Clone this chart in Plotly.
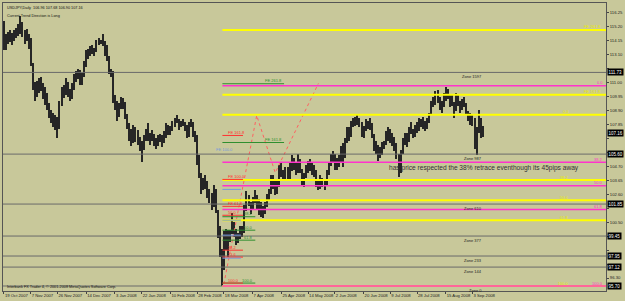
import numpy as np
import pandas as pd
import plotly.graph_objects as go

# ---------------- data ----------------
header_text = "USDJPY,Daily  106.96 107.68 106.90 107.16"
trend_text = "Current Trend Direction is Long"
footer_text = "Interbank FX Trader 4, \u00a9 2001-2008 MetaQuotes Software Corp."
note_text = "has price respected the 38% retrace eventhough its 45pips away"
note_price = 104.52
note_date = "2008-07-08"

first_date = "2007-10-19"
bar_high = [
    115.6,
    114.6, 114.8, 114.9, 114.7, 114.9,
    115.1, 115.4, 115.97, 115.5, 114.9,
    115.0, 114.6, 114.3, 112.4, 111.0,
    111.1, 111.3, 111.4, 110.9, 110.6,
    110.2, 109.4, 108.9, 108.7, 108.5,
    108.4, 109.6, 110.6, 110.8, 111.3,
    111.0, 110.5, 110.9, 111.6, 111.8,
    112.0, 111.9, 111.7, 112.6, 113.4,
    113.5, 113.7, 113.8, 113.6, 114.2,
    114.3, 114.2, 114.62, 114.1, 113.8,
    113.0, 112.0, 111.8, 110.0, 109.6,
    109.4, 109.9, 109.8, 109.5, 108.6,
    107.9, 107.5, 107.8, 107.6, 107.4,
    106.9, 106.6, 107.0, 107.5, 107.9,
    107.2, 107.4, 107.1, 106.8, 107.0,
    107.1, 107.0, 107.3, 107.9, 107.8,
    107.7, 108.1, 108.3, 108.5, 108.2,
    108.1, 108.2, 108.0, 107.8, 108.0,
    108.2, 108.0, 107.3, 107.0, 105.5,
    104.2, 103.8, 104.0, 103.6, 103.0,
    102.7, 103.3, 103.0, 101.4, 100.2,
    98.5, 99.8, 100.0, 99.9, 99.9,
    101.2, 100.5, 100.0, 99.7, 100.2,
    100.2, 101.8, 102.8, 102.5, 102.0,
    102.4, 102.9, 102.5, 102.2, 102.0,
    101.7, 102.0, 102.6, 103.0, 104.0,
    104.0, 103.6, 103.6, 104.8, 104.9,
    104.4, 104.6, 104.6, 104.9, 105.5,
    105.3, 105.0, 105.6, 105.2, 104.5,
    104.2, 104.8, 105.1, 105.2, 104.9,
    104.8, 104.4, 103.6, 104.0, 103.8,
    103.6, 104.4, 105.0, 105.6, 105.8,
    105.6, 105.3, 105.5, 106.2, 106.4,
    106.8, 107.6, 107.6, 108.1, 108.3,
    108.4, 108.5, 108.3, 108.0, 107.7,
    108.2, 108.1, 108.3, 107.9, 107.1,
    106.6, 106.3, 106.1, 106.5, 106.6,
    107.3, 107.6, 107.5, 107.2, 106.9,
    106.4, 105.6, 105.9, 106.8, 107.2,
    107.2, 107.6, 108.0, 107.5, 107.8,
    108.0, 108.3, 108.2, 108.4, 108.1,
    108.3, 108.7, 109.6, 109.9, 110.3,
    110.4, 109.9, 109.6, 110.2, 110.6,
    110.5, 110.0, 110.0, 109.5, 110.2,
    110.0, 109.6, 109.7, 109.9, 109.4,
    108.8, 108.7, 108.5, 108.3, 107.6,
    108.9, 108.3, 107.7,
]
bar_low = [
    113.4,
    113.4, 113.9, 114.0, 113.8, 114.1,
    114.3, 114.5, 114.6, 114.4, 113.9,
    114.1, 113.5, 112.2, 110.4, 109.6,
    109.9, 110.2, 110.3, 109.7, 109.3,
    108.9, 108.3, 107.9, 107.6, 107.4,
    106.8, 107.5, 109.2, 109.8, 110.0,
    109.9, 109.6, 109.7, 110.4, 111.0,
    111.2, 110.8, 110.8, 111.4, 112.1,
    112.7, 113.0, 113.1, 113.0, 113.3,
    113.8, 113.9, 113.7, 113.0, 112.6,
    111.6, 111.4, 109.4, 108.9, 108.1,
    108.4, 109.0, 109.0, 108.2, 107.5,
    106.6, 106.2, 106.4, 106.5, 106.3,
    105.8, 105.0, 105.9, 106.6, 106.6,
    106.3, 106.6, 106.2, 106.0, 106.2,
    106.5, 106.1, 106.4, 106.8, 107.0,
    107.0, 107.3, 107.6, 107.9, 107.4,
    107.6, 107.7, 107.3, 106.8, 106.9,
    107.6, 106.9, 106.5, 104.8, 103.8,
    102.6, 102.9, 103.0, 102.3, 101.9,
    101.4, 101.6, 101.2, 99.3, 97.9,
    95.7, 96.9, 98.4, 97.9, 99.0,
    99.6, 99.4, 98.8, 98.9, 99.2,
    99.4, 99.7, 101.3, 101.7, 101.1,
    101.5, 101.9, 101.4, 101.0, 100.9,
    100.8, 101.1, 101.6, 102.1, 102.6,
    103.0, 102.5, 102.6, 103.1, 103.9,
    103.6, 103.7, 103.6, 103.7, 104.3,
    104.4, 104.0, 104.2, 104.2, 103.2,
    103.1, 103.8, 104.2, 104.3, 104.0,
    103.9, 103.1, 102.9, 103.0, 103.1,
    102.9, 103.3, 104.0, 104.7, 105.0,
    104.4, 104.4, 104.6, 105.0, 104.6,
    105.3, 106.4, 106.6, 106.9, 107.6,
    107.7, 107.8, 107.6, 106.9, 106.8,
    107.3, 107.5, 107.4, 106.8, 105.8,
    105.6, 105.1, 105.3, 105.5, 106.0,
    106.3, 106.6, 106.4, 106.2, 105.8,
    105.2, 103.85, 104.2, 105.6, 106.3,
    106.1, 106.5, 107.1, 106.8, 106.9,
    107.2, 107.3, 107.6, 107.5, 107.3,
    107.5, 107.9, 108.6, 109.1, 109.3,
    109.4, 108.9, 108.7, 109.1, 109.6,
    109.7, 109.1, 109.2, 108.3, 108.8,
    109.2, 108.7, 108.9, 109.1, 108.5,
    108.1, 107.8, 107.7, 106.0, 105.55,
    107.2, 106.8, 106.9,
]
last_price = 107.16

date_labels = ["19 Oct 2007", "7 Nov 2007", "26 Nov 2007", "14 Dec 2007", "3 Jan 2008",
               "22 Jan 2008", "10 Feb 2008", "28 Feb 2008", "18 Mar 2008", "7 Apr 2008",
               "25 Apr 2008", "14 May 2008", "2 Jun 2008", "20 Jun 2008", "9 Jul 2008",
               "28 Jul 2008", "15 Aug 2008", "3 Sep 2008"]
price_ticks = [96.30, 97.35, 98.40, 99.45, 100.50, 101.55, 102.60, 103.65, 104.70, 105.75,
               106.80, 107.85, 108.90, 109.95, 111.00, 112.05, 113.10, 114.15, 115.20, 116.25]

zone_names = ["Zone 1597", "Zone 987", "Zone 610", "Zone 377", "Zone 233", "Zone 144", "Zone 0"]
zone_prices = [111.73, 105.60, 101.85, 99.45, 97.95, 97.12, 95.70]

fib_pink_levels = [110.73, 104.99, 103.22, 101.44, 95.70]
fib_pink_labels = ["0.0", "38.2", "50.0", "61.8", "100.0"]
fib_yellow_levels = [114.92, 110.06, 108.56, 103.65, 102.13, 100.64]
fib_yellow_labels = ["FE 261.8", "FE 161.8", "0.0", "38.2", "50.0", "61.8"]
fib_yellow_base = 95.70

fe_green_levels = [110.88, 106.47, 100.90, 99.89, 99.14, 95.92]
fe_green_labels = ["FE 261.8", "FE 161.8", "38.2", "50.0", "61.8", "100.0"]
fe_red_levels = [107.00, 103.70, 101.68, 101.01, 98.39, 97.87, 95.92]
fe_red_labels = ["FE 161.8", "FE 100.0", "FE 61.8", "50.0", "38.2", "23.6", "100.0"]
fe_blue_levels = [105.80, 102.95, 100.64, 99.52, 97.79]
fe_blue_labels = ["FE 100.0", "", "", "", ""]

fe_path_dates = ["2008-03-18", "2008-04-09", "2008-04-22", "2008-05-21"]
fe_path_prices = [95.85, 108.50, 104.20, 110.90]

# ---------------- figure ----------------
BG = "#C8C89A"
GRAY = "#6A6A6A"
PINK = "#FF33CC"
YEL = "#FFFF00"
GREEN = "#2F8F2F"
RED = "#FF3030"
BLUE = "#7799DD"
FONT = "Liberation Sans"

n = len(bar_high)
dates = pd.bdate_range(first_date, periods=n)
idx = np.arange(n)
hi = np.array(bar_high)
lo = np.array(bar_low)


def di(d):
    return int(dates.searchsorted(pd.to_datetime(d)))


fig = go.Figure()
fig.add_trace(go.Bar(x=idx, base=lo, y=hi - lo, width=0.5,
                     marker=dict(color="#262626", line=dict(width=0)),
                     hoverinfo="skip", showlegend=False))

x_lo, x_hi = -0.48, 292.97
fib_start = int(np.argmin(lo)) + 0.3

shapes = []
annots = []

# zone lines (full width)
for name, p in zip(zone_names, zone_prices):
    shapes.append(dict(type="line", xref="paper", x0=0, x1=1, yref="y", y0=p, y1=p,
                       line=dict(color=GRAY, width=1)))
    annots.append(dict(x=0.797, xref="paper", y=p, yref="y", text=name, showarrow=False,
                       yshift=-4, font=dict(size=4, color="#222222", family=FONT)))

# yellow fib / expansion lines
for p, lab in zip(fib_yellow_levels, fib_yellow_labels):
    shapes.append(dict(type="line", xref="x", x0=fib_start, x1=x_hi, yref="y", y0=p, y1=p,
                       line=dict(color=YEL, width=2)))
    big = lab.startswith("FE")
    annots.append(dict(x=0.995 if big else 0.942, xref="paper", y=p, yref="y", text=lab,
                       showarrow=False, xanchor="right", yshift=3,
                       font=dict(size=4, color="#E8E800", family=FONT)))
shapes.append(dict(type="line", xref="x", x0=fib_start, x1=x_hi, yref="y",
                   y0=fib_yellow_base, y1=fib_yellow_base, line=dict(color=YEL, width=2)))
annots.append(dict(x=0.942, xref="paper", y=fib_yellow_base, yref="y", text="100.0",
                   showarrow=False, xanchor="right", yshift=3,
                   font=dict(size=4, color="#E8E800", family=FONT)))

# pink fib retracement
for p, lab in zip(fib_pink_levels, fib_pink_labels):
    shapes.append(dict(type="line", xref="x", x0=fib_start, x1=x_hi, yref="y", y0=p, y1=p,
                       line=dict(color=PINK, width=1.6)))
    annots.append(dict(x=0.998, xref="paper", y=p, yref="y", text=lab, showarrow=False,
                       xanchor="right", yshift=3, font=dict(size=4, color=PINK, family=FONT)))

# small expansion clusters on the left
s0 = fib_start
for k, (p, lab) in enumerate(zip(fe_green_levels, fe_green_labels)):
    x1 = s0 + (30 if k < 2 else 16)
    shapes.append(dict(type="line", xref="x", x0=s0, x1=x1, yref="y", y0=p, y1=p,
                       line=dict(color=GREEN, width=1)))
    annots.append(dict(x=x1, xref="x", y=p, yref="y", text=lab, showarrow=False,
                       xanchor="right", yshift=3, font=dict(size=4, color=GREEN, family=FONT)))
for p, lab in zip(fe_red_levels, fe_red_labels):
    shapes.append(dict(type="line", xref="x", x0=s0, x1=s0 + 10, yref="y", y0=p, y1=p,
                       line=dict(color=RED, width=1)))
    annots.append(dict(x=s0 + 1.5, xref="x", y=p, yref="y", text=lab, showarrow=False,
                       xanchor="left", yshift=3, font=dict(size=4, color=RED, family=FONT)))
for p, lab in zip(fe_blue_levels, fe_blue_labels):
    if lab:
        annots.append(dict(x=s0 - 4, xref="x", y=p, yref="y", text=lab, showarrow=False,
                           xanchor="left", yshift=2, font=dict(size=4, color=BLUE, family=FONT)))
    else:
        shapes.append(dict(type="line", xref="x", x0=s0, x1=s0 + 9, yref="y", y0=p, y1=p,
                           line=dict(color=BLUE, width=1)))

# dotted expansion path
fig.add_trace(go.Scatter(x=[di(d) for d in fe_path_dates], y=fe_path_prices, mode="lines",
                         line=dict(color="#FF6060", width=1, dash="dot"),
                         hoverinfo="skip", showlegend=False))

# price boxes on the right axis
box_prices = zone_prices + [last_price]
for p in box_prices:
    annots.append(dict(x=1.0, xref="paper", y=p, yref="y", text=f"{p:.2f}", showarrow=False,
                       xanchor="left", xshift=1, bgcolor="#000000", borderpad=0.5,
                       font=dict(size=4.5, color="#FFFFFF", family=FONT)))

# tick labels hidden where a price box is drawn over them
tick_text = [("" if min(abs(v - b) for b in box_prices) < 0.5 else f"{v:.2f}")
             for v in price_ticks]

# texts
annots.append(dict(x=di(note_date) - 0.5, xref="x", y=note_price, yref="y", text=note_text,
                   showarrow=False, xanchor="left",
                   font=dict(size=6.6, color="#333333", family=FONT)))
annots.append(dict(x=0.003, xref="paper", y=0.998, yref="paper", text=header_text,
                   showarrow=False, xanchor="left", yanchor="top",
                   font=dict(size=3.8, color="#111111", family=FONT)))
annots.append(dict(x=0.003, xref="paper", y=0.97, yref="paper", text=trend_text,
                   showarrow=False, xanchor="left", yanchor="top",
                   font=dict(size=3.8, color="#111111", family=FONT)))
annots.append(dict(x=0.003, xref="paper", y=0.0, yref="paper", text=footer_text,
                   showarrow=False, xanchor="left", yanchor="bottom", yshift=0,
                   font=dict(size=3.8, color="#111111", family=FONT)))

tick_idx = [di(pd.to_datetime(s, format="%d %b %Y")) for s in date_labels]

fig.update_layout(
    width=625, height=301,
    margin=dict(l=2, r=17, t=2, b=10),
    paper_bgcolor=BG, plot_bgcolor=BG,
    shapes=shapes, annotations=annots,
    bargap=0, showlegend=False,
    xaxis=dict(range=[x_lo, x_hi], showgrid=False, zeroline=False, tickmode="array",
               tickvals=tick_idx, ticktext=date_labels, ticks="outside", ticklen=2,
               tickangle=0, tickcolor="#444444", ticklabelposition="outside right",
               tickfont=dict(size=4.2, color="#222222", family=FONT),
               showline=True, linecolor="#555555", linewidth=1, mirror=True),
    yaxis=dict(range=[95.325, 116.94], side="right", showgrid=False, zeroline=False,
               tickmode="array", tickvals=price_ticks, ticktext=tick_text,
               ticks="outside", ticklen=2,
               tickcolor="#444444", tickfont=dict(size=4.2, color="#222222", family=FONT),
               showline=True, linecolor="#555555", linewidth=1, mirror=True),
)

fig.write_html("out.html")
